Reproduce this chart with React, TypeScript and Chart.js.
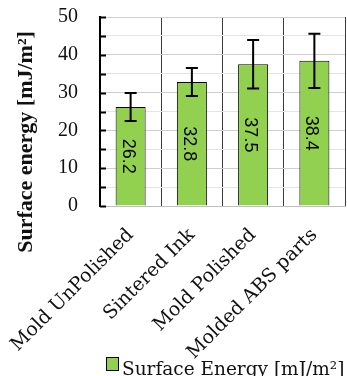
import React, { useEffect, useRef } from 'react';
import { Chart, registerables } from 'chart.js';

Chart.register(...registerables);

const categories = ['Mold UnPolished', 'Sintered Ink', 'Mold Polished', 'Molded ABS parts'];
const values = [26.2, 32.8, 37.5, 38.4];
const errors = [3.7, 3.7, 6.4, 7.2];
const seriesLabel = 'Surface Energy [mJ/m²]';
const yTitle = 'Surface energy [mJ/m²]';
const yMin = 0;
const yMax = 50;
const yStep = 5;
const barColor = '#92D050';

const overlay = {
  id: 'overlay',
  afterDatasetsDraw(chart: any) {
    const ctx = chart.ctx;
    const meta = chart.getDatasetMeta(0);
    const ys = chart.scales.y;
    ctx.save();
    meta.data.forEach((bar: any, i: number) => {
      const v = values[i];
      const e = errors[i];
      const x = bar.x;
      const cy = (bar.y + bar.base) / 2;
      ctx.save();
      ctx.translate(x, cy);
      ctx.rotate(Math.PI / 2);
      ctx.font = '18px "Liberation Sans"';
      ctx.fillStyle = '#000';
      ctx.textAlign = 'center';
      ctx.textBaseline = 'middle';
      ctx.fillText(v.toFixed(1), 0, 3);
      ctx.restore();
      const yTop = ys.getPixelForValue(v + e);
      const yBot = ys.getPixelForValue(v - e);
      ctx.strokeStyle = '#000';
      ctx.lineWidth = 2;
      ctx.beginPath();
      ctx.moveTo(x, yTop);
      ctx.lineTo(x, yBot);
      ctx.moveTo(x - 6, yTop);
      ctx.lineTo(x + 6, yTop);
      ctx.moveTo(x - 6, yBot);
      ctx.lineTo(x + 6, yBot);
      ctx.stroke();
    });
    ctx.restore();
  },
  afterDraw(chart: any) {
    const ctx = chart.ctx;
    const ys = chart.scales.y;
    const left = chart.chartArea.left;
    ctx.save();
    ctx.strokeStyle = '#000';
    ctx.lineWidth = 2;
    ctx.beginPath();
    ys.ticks.forEach((t: any) => {
      const py = Math.round(ys.getPixelForValue(t.value)) + 0.5;
      ctx.moveTo(left, py);
      ctx.lineTo(left + 6, py);
    });
    ctx.stroke();
    ctx.save();
    ctx.translate(26, 142);
    ctx.rotate(-Math.PI / 2);
    ctx.font = 'bold 22px "Liberation Serif"';
    ctx.fillStyle = '#111';
    ctx.textAlign = 'center';
    ctx.textBaseline = 'middle';
    ctx.fillText(yTitle, 0, 0);
    ctx.restore();
    const ds = chart.data.datasets[0];
    ctx.fillStyle = ds.backgroundColor;
    ctx.fillRect(106.5, 357.5, 12, 13);
    ctx.strokeStyle = '#000';
    ctx.lineWidth = 1;
    ctx.strokeRect(106.5, 357.5, 12, 13);
    ctx.font = '18.5px "DejaVu Serif"';
    ctx.fillStyle = '#111';
    ctx.textAlign = 'left';
    ctx.textBaseline = 'alphabetic';
    ctx.fillText(ds.label, 122, 375);
    ctx.restore();
  },
};

export default function App() {
  const ref = useRef<HTMLCanvasElement | null>(null);
  useEffect(() => {
    if (!ref.current) return;
    const chart = new Chart(ref.current, {
      type: 'bar',
      data: {
        labels: categories,
        datasets: [
          {
            label: seriesLabel,
            data: values,
            backgroundColor: barColor,
            borderColor: '#000',
            borderWidth: 1,
            barPercentage: 0.49,
            categoryPercentage: 1,
          },
        ],
      },
      options: {
        animation: false,
        responsive: false,
        maintainAspectRatio: false,
        layout: { padding: { top: 17, right: 2, left: 0, bottom: 0 } },
        plugins: { legend: { display: false }, tooltip: { enabled: false } },
        scales: {
          x: {
            grid: { color: '#3a3a3a', lineWidth: 1, drawTicks: false, offset: true },
            border: { color: '#bfbfbf', width: 1 },
            ticks: {
              maxRotation: 45,
              minRotation: 45,
              autoSkip: false,
              font: { family: 'DejaVu Serif', size: 19 },
              color: '#111',
              padding: 18,
            },
            afterFit: (s: any) => {
              s.height = 170;
              s.paddingLeft = 0;
              s.paddingRight = 0;
            },
          },
          y: {
            min: yMin,
            max: yMax,
            ticks: {
              stepSize: yStep,
              autoSkip: false,
              callback: (v: any) => (Number(v) % 10 === 0 ? String(v) : ''),
              font: { family: 'Liberation Serif', size: 20 },
              color: '#111',
              padding: 2,
            },
            grid: {
              color: (c: any) => (c.tick && c.tick.value % 10 === 0 ? '#cfcfcf' : '#e4e4e4'),
              drawTicks: true,
              tickLength: 20,
              tickColor: 'rgba(0,0,0,0)',
            },
            border: { color: '#000', width: 2 },
            afterFit: (s: any) => {
              s.width = 100;
            },
          },
        },
      },
      plugins: [overlay],
    });
    return () => chart.destroy();
  }, []);
  return (
    <div style={{ position: 'fixed', left: 0, top: 0, width: 347, height: 376, background: '#fff' }}>
      <canvas ref={ref} width={347} height={376} style={{ display: 'block' }} />
    </div>
  );
}
